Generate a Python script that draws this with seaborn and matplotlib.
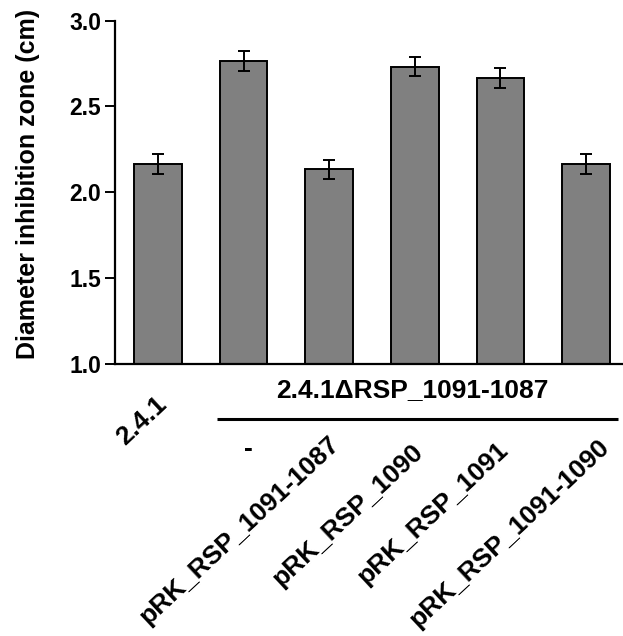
import matplotlib
matplotlib.use("Agg")
import matplotlib.pyplot as plt
from matplotlib import transforms
import seaborn as sns
import pandas as pd

# ---- data ----
categories = ["2.4.1", "-", "pRK_RSP_1091-1087", "pRK_RSP_1090",
              "pRK_RSP_1091", "pRK_RSP_1091-1090"]
means = [2.167, 2.767, 2.133, 2.733, 2.667, 2.167]
sems = [0.058, 0.058, 0.058, 0.058, 0.058, 0.058]
yticks = [1.0, 1.5, 2.0, 2.5, 3.0]
ylabel = "Diameter inhibition zone (cm)"
group_label = "2.4.1ΔRSP_1091-1087"
group_members = categories[1:]

# ---- style ----
sns.set_style("ticks")
plt.rcParams["font.family"] = ["Liberation Sans", "DejaVu Sans"]
plt.rcParams["font.weight"] = "bold"
for k in ["axes.edgecolor", "xtick.color", "ytick.color", "text.color", "axes.labelcolor"]:
    plt.rcParams[k] = "black"

fig = plt.figure(figsize=(6.23, 6.36), dpi=100)
ax = fig.add_axes([0.1846, 0.4277, 0.8154, 0.5398])

df = pd.DataFrame({"sample": categories, "diameter": means})
sns.barplot(data=df, x="sample", y="diameter", color="#808080", saturation=1,
            width=0.555, edgecolor="black", linewidth=1.4, errorbar=None, ax=ax)
xs = list(range(len(categories)))
ax.errorbar(xs, means, yerr=sems, fmt="none", ecolor="black",
            elinewidth=1.4, capsize=4.3, capthick=1.4, zorder=3)

ax.set_ylim(yticks[0], yticks[-1])
ax.set_xlim(-0.5, 5.43)
ax.set_yticks(yticks)
ax.set_yticklabels([f"{t:.1f}" for t in yticks], fontsize=16.5, fontweight="bold")
ax.tick_params(axis="y", length=7, width=1.4, pad=3, direction="out")
ax.tick_params(axis="x", length=0, labelbottom=False)
ax.set_xlabel("")
sns.despine(ax=ax)
for s in ["left", "bottom"]:
    ax.spines[s].set_linewidth(1.6)
ax.set_ylabel(ylabel, fontsize=18, fontweight="bold")
ax.yaxis.set_label_coords(-0.1476, 0.525)

# ---- category labels ----
label_offsets = [(10, -42), (4.5, -92), (11, -82), (9, -90), (9, -88), (24, -85)]
for i, (lab, (dx, dy)) in enumerate(zip(categories, label_offsets)):
    rot = 0 if lab == "-" else 43
    ha = "center" if lab == "-" else "right"
    ax.annotate(lab, xy=(i, 0), xycoords=("data", "axes fraction"),
                xytext=(dx, dy), textcoords="offset pixels",
                rotation=rot, rotation_mode="anchor", ha=ha, va="baseline",
                fontsize=19, fontweight="bold", annotation_clip=False)

# ---- group label and line ----
idx = [categories.index(c) for c in group_members]
gcenter = sum(idx) / len(idx)
ax.annotate(group_label, xy=(gcenter, 0), xycoords=("data", "axes fraction"),
            xytext=(-3, -33), textcoords="offset pixels", ha="center", va="baseline",
            fontsize=19, fontweight="bold", annotation_clip=False)
trans = transforms.blended_transform_factory(ax.transData, ax.transAxes)
ax.plot([min(idx) - 0.31, max(idx) + 0.37], [-0.160, -0.160], transform=trans,
        color="black", lw=2.2, clip_on=False, solid_capstyle="butt")

fig.savefig("out.png", dpi=100)
